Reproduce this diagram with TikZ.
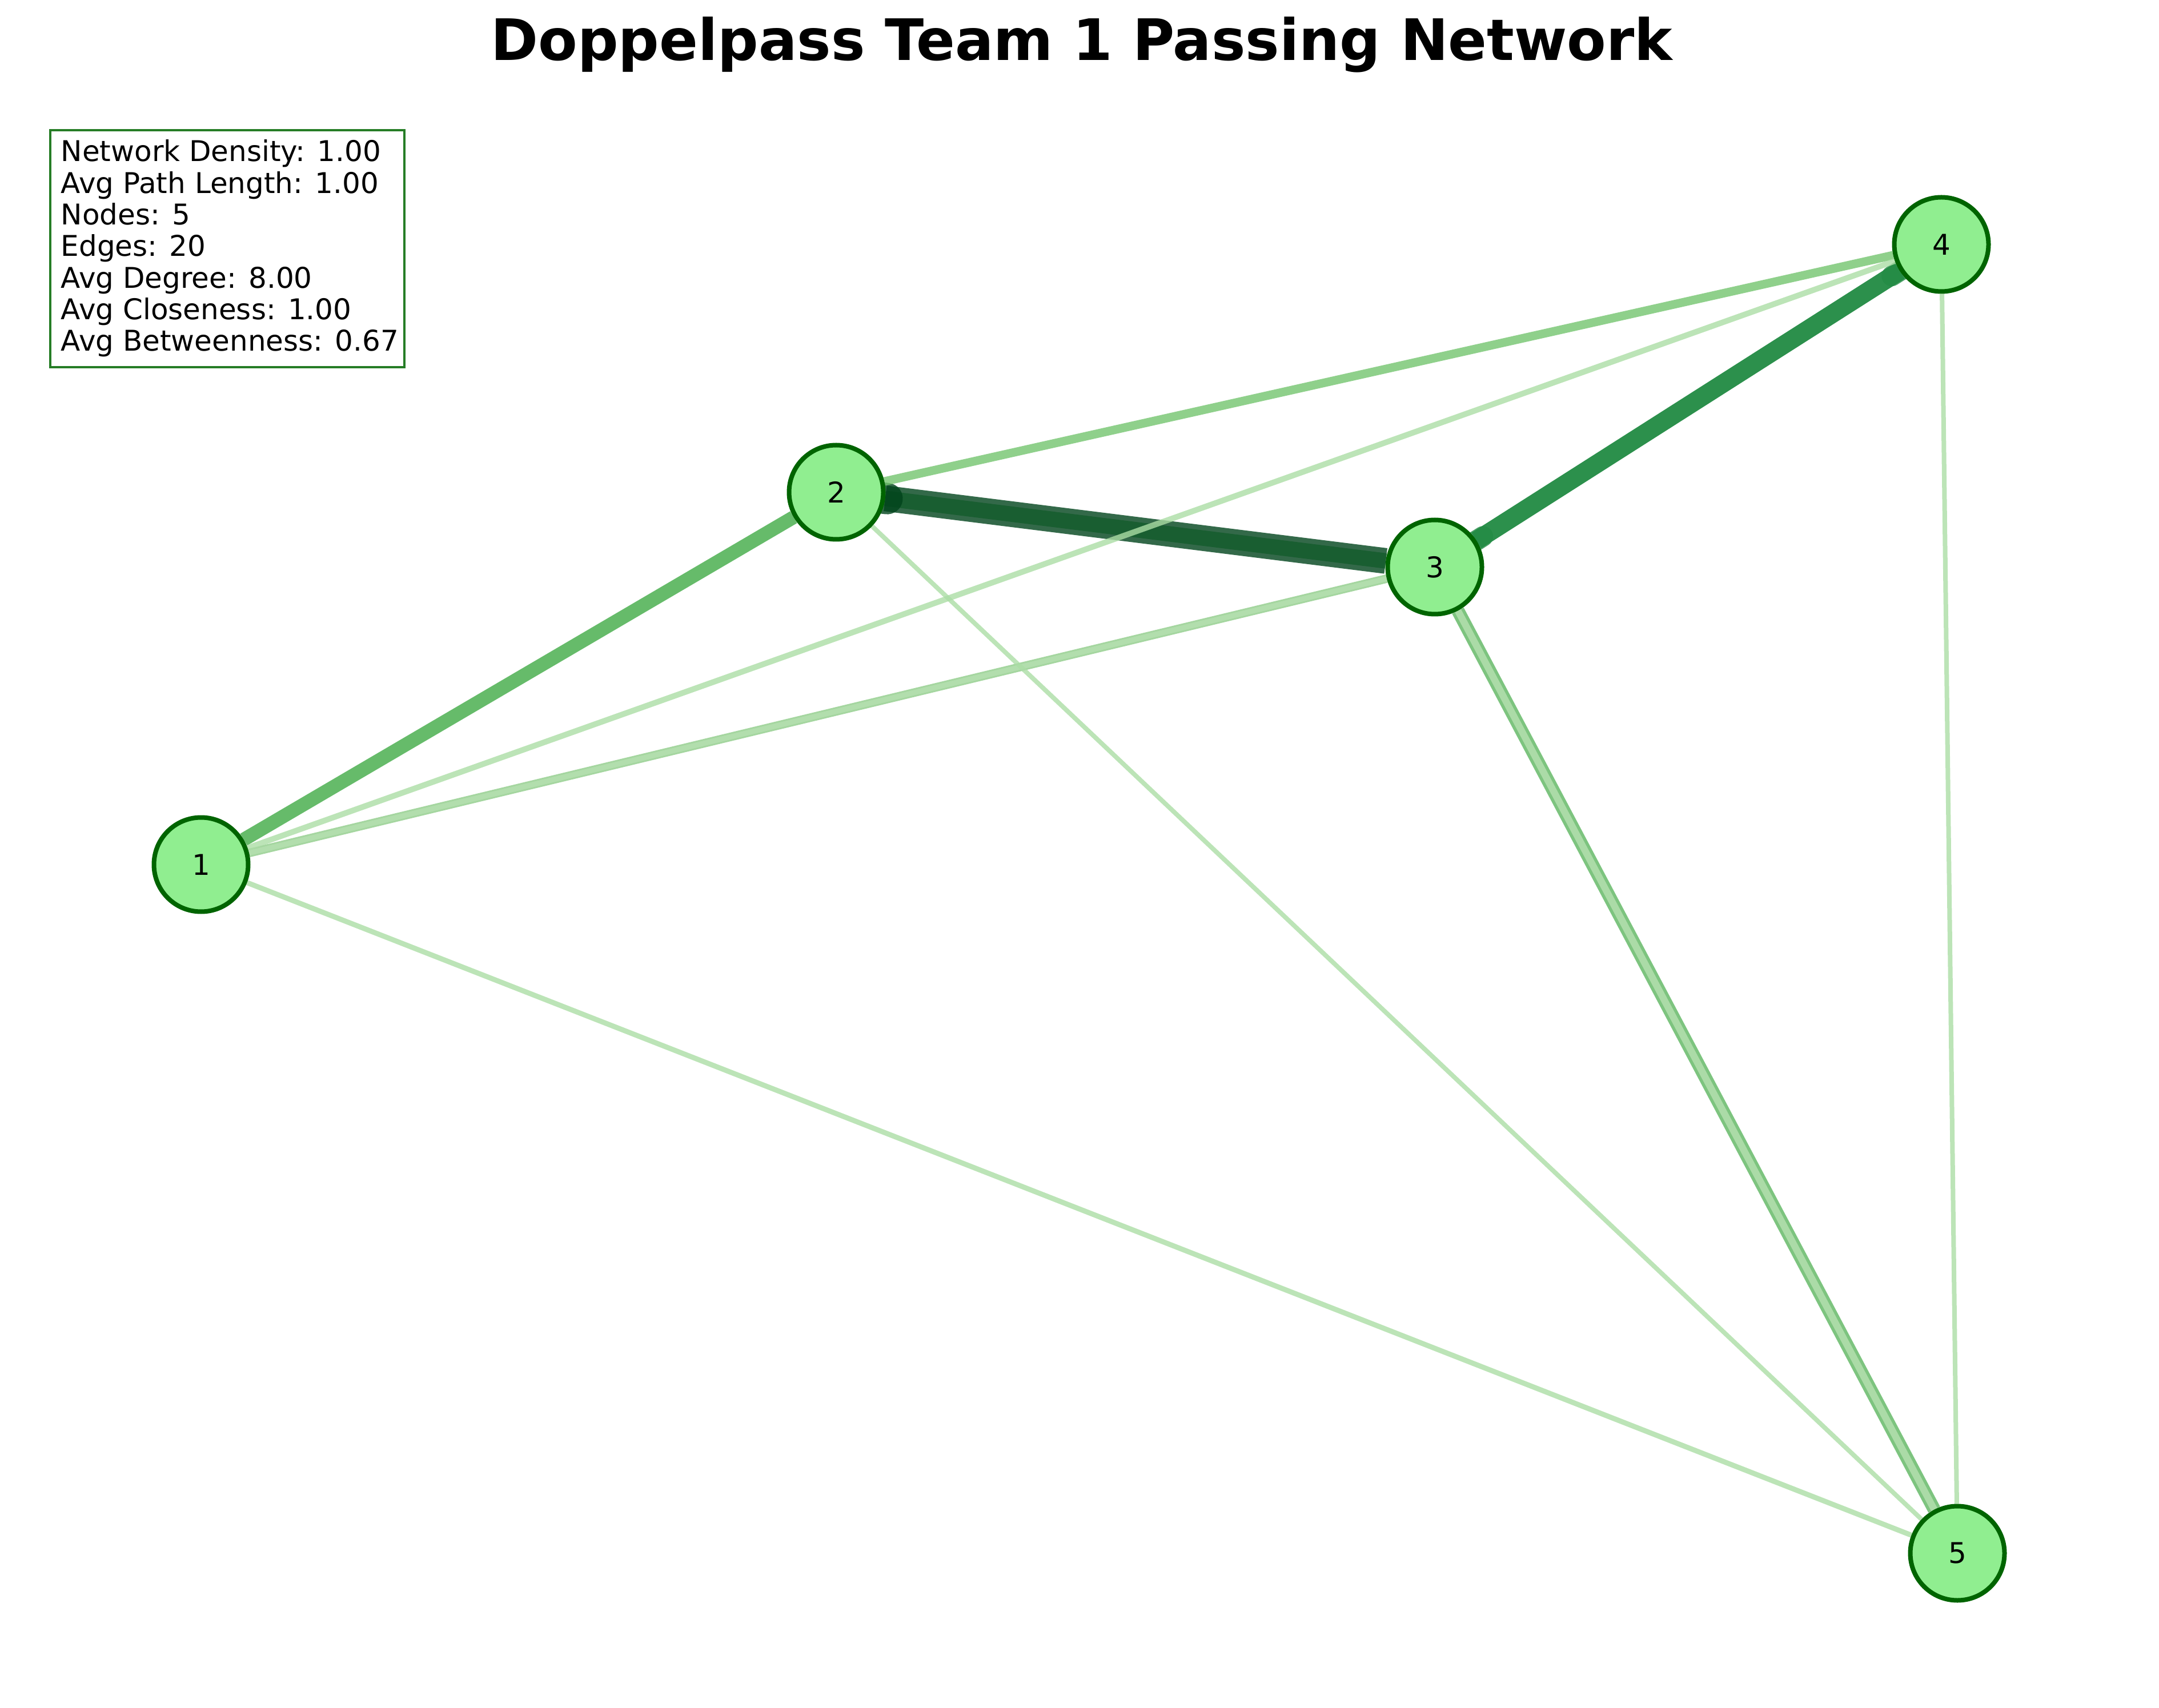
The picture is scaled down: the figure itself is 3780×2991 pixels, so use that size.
\documentclass[tikz,border=0pt]{standalone}
\usepackage{fontspec}
\setmainfont{DejaVu Sans}
\usetikzlibrary{calc}
\pgfdeclarelayer{edgelayer}
\pgfsetlayers{edgelayer,main}
\definecolor{nodefill}{HTML}{90EE90}
\definecolor{nodeedge}{HTML}{006400}
\definecolor{boxgreen}{HTML}{267D26}
\definecolor{elight}{HTML}{ABDDA5}
\definecolor{e12}{HTML}{40AA45}
\definecolor{e13out}{HTML}{8ECC88}
\definecolor{e13in}{HTML}{B6E1B1}
\definecolor{e23out}{HTML}{00441B}
\definecolor{e23in}{HTML}{145B2C}
\definecolor{e24}{HTML}{73C46E}
\definecolor{e34}{HTML}{238B45}
\definecolor{e35out}{HTML}{5DB55F}
\definecolor{e35in}{HTML}{B8E2B1}
\begin{document}
\begin{tikzpicture}[x=0.24pt,y=-0.24pt,
  player/.style={circle, draw=nodeedge, fill=nodefill, line width=1.92pt,
    minimum size=39.6pt, inner sep=0pt, font=\fontsize{12}{14}\selectfont},
  pass/.style={opacity=0.8},
  blob/.style={opacity=0.8, line cap=round},
  statline/.style={anchor=base west, inner sep=0pt, font=\fontsize{12}{14}\selectfont}]
\useasboundingbox (0,0) rectangle (3780,2991);

% title
\node (title) [font=\bfseries\fontsize{24}{29}\selectfont, anchor=base, inner sep=0pt]
  at (1894,106) {Doppelpass Team 1 Passing Network};

% players
\node (n1) [player] at (352,1514) {1};
\node (n2) [player] at (1464,862) {2};
\node (n3) [player] at (2512,993) {3};
\node (n4) [player] at (3399,428) {4};
\node (n5) [player] at (3427,2720) {5};

% passes
\begin{pgfonlayer}{edgelayer}
\draw[pass, e23out, line width=10.8pt] (n3) -- (n2);
\draw[pass, e23in, line width=6.48pt] (n2) -- (n3);
\draw[blob, e23out, line width=13.2pt] ($(n2)!0.062!(n3)$) -- ($(n2)!0.085!(n3)$);
\draw[pass, e34, line width=7.68pt] (n3) -- (n4);
\draw[pass, e34, line width=7.68pt] (n4) -- (n3);
\draw[blob, e34, line width=8.6pt] ($(n4)!0.07!(n3)$) -- ($(n4)!0.098!(n3)$);
\draw[blob, e34, line width=8.6pt] ($(n3)!0.07!(n4)$) -- ($(n3)!0.095!(n4)$);
\draw[pass, e12, line width=5.76pt] (n1) -- (n2);
\draw[pass, e24, line width=3.6pt] (n2) -- (n4);
\draw[pass, e35out, line width=5.52pt] (n3) -- (n5);
\draw[pass, e35in, line width=2.88pt] (n5) -- (n3);
\draw[pass, e13out, line width=3.6pt] (n1) -- (n3);
\draw[pass, e13in, line width=2.16pt] (n3) -- (n1);
\draw[pass, elight, line width=2.4pt] (n1) -- (n4);
\draw[pass, elight, line width=2.16pt] (n1) -- (n5);
\draw[pass, elight, line width=1.92pt] (n2) -- (n5);
\draw[pass, elight, line width=1.92pt] (n4) -- (n5);
\end{pgfonlayer}

% statistics box
\draw[boxgreen, line width=1pt] (88,228) rectangle (708,643);
\foreach \t [count=\i] in {Network Density: 1.00, Avg Path Length: 1.00, Nodes: 5,
    Edges: 20, Avg Degree: 8.00, Avg Closeness: 1.00, Avg Betweenness: 0.67}
  \node (stat\i) [statline] at (106, {283+(\i-1)*55.33}) {\t};
\end{tikzpicture}
\end{document}
